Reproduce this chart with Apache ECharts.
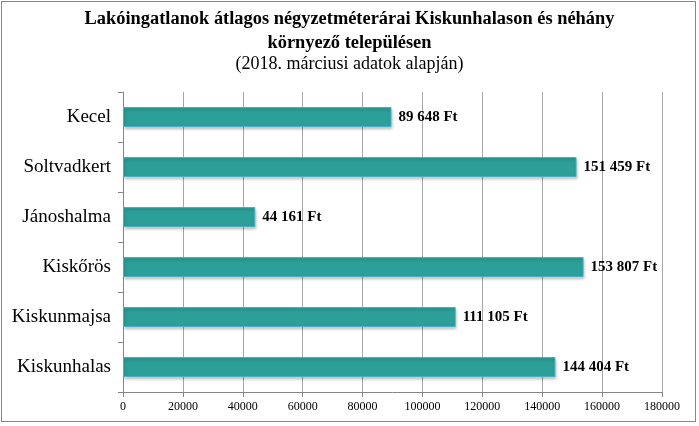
<!DOCTYPE html>
<html>
<head>
<meta charset="utf-8">
<script src="https://cdn.jsdelivr.net/npm/echarts@6/dist/echarts.min.js"></script>
<style>
html,body{margin:0;padding:0;background:#fff;}
#wrap{position:absolute;left:1px;top:1px;width:695px;height:421px;border:1px solid #878787;box-sizing:border-box;}
#c{position:absolute;left:0;top:0;width:699px;height:426px;}
</style>
</head>
<body>
<div id="wrap"></div>
<div id="c"></div>
<script>
const categories = ['Kiskunhalas', 'Kiskunmajsa', 'Kiskőrös', 'Jánoshalma', 'Soltvadkert', 'Kecel'];
const values = [144404, 111105, 153807, 44161, 151459, 89648];
const titleLines = ['Lakóingatlanok átlagos négyzetméterárai Kiskunhalason és néhány', 'környező településen'];
const subtitle = '(2018. márciusi adatok alapján)';

const serif = '"Liberation Serif", "Times New Roman", serif';
function fmt(v){ return String(v).replace(/\B(?=(\d{3})+(?!\d))/g, ' ') + ' Ft'; }

const chart = echarts.init(document.getElementById('c'), null, {renderer:'canvas'});
chart.setOption({
  animation:false,
  title:{
    text: titleLines.join('\n'),
    subtext: subtitle,
    left:'center', top:2, itemGap:0,
    textStyle:{fontFamily:serif, fontWeight:'bold', fontSize:18.4, color:'#000', lineHeight:24},
    subtextStyle:{fontFamily:serif, fontSize:18, color:'#000', lineHeight:19}
  },
  grid:{left:123, right:37, top:92, bottom:34, containLabel:false},
  xAxis:{
    type:'value', min:0, max:180000, interval:20000,
    axisLine:{show:true, lineStyle:{color:'#868686'}},
    axisTick:{show:true, length:5, lineStyle:{color:'#868686'}},
    axisLabel:{fontFamily:serif, fontSize:12, color:'#000', margin:9, formatter:v=>String(v)},
    splitLine:{show:true, lineStyle:{color:'#a6a6a6'}}
  },
  yAxis:{
    type:'category', data:categories,
    axisLine:{show:true, lineStyle:{color:'#868686'}},
    axisTick:{show:true, length:5, lineStyle:{color:'#868686'}},
    axisLabel:{fontFamily:serif, fontSize:19, color:'#000', margin:12}
  },
  series:[{
    type:'bar', data:values, barWidth:20,
    itemStyle:{color:'#2c9f99', borderColor:'#4aaec4', borderWidth:1,
      shadowColor:'rgba(0,0,0,0.25)', shadowBlur:3, shadowOffsetX:1, shadowOffsetY:2},
    label:{show:true, position:'right', distance:7, formatter:p=>fmt(p.value),
      fontFamily:serif, fontWeight:'bold', fontSize:15, color:'#000'}
  }]
});
</script>
</body>
</html>
